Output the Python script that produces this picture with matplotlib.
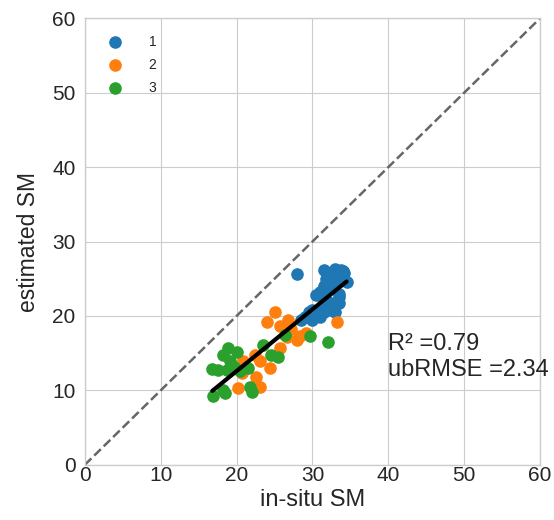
import numpy as np
import matplotlib
matplotlib.use("Agg")
import matplotlib.pyplot as plt

plt.style.use("seaborn-v0_8-whitegrid")
plt.rcParams['font.family'] = ['Liberation Sans', 'DejaVu Sans']

g1_x = [28.0, 31.5, 32.0, 33.8, 34.2, 31.8, 32.5, 33.0, 34.5, 31.5, 32.2, 33.5, 32.0, 31.0,
        30.5, 31.8, 32.8, 33.5, 30.0, 29.5, 30.5, 31.5, 32.5, 33.0, 29.0, 28.5, 31.0, 30.0,
        33.5, 32.0, 31.5, 33.2, 32.8, 31.2, 30.8, 32.4, 33.0, 34.0, 34.0, 33.0]
g1_y = [25.7, 26.2, 25.8, 26.2, 25.8, 25.0, 25.2, 24.8, 24.5, 24.0, 24.8, 23.0, 24.0, 23.2,
        22.8, 22.2, 21.5, 21.8, 20.8, 20.5, 20.0, 20.5, 20.8, 20.5, 19.8, 19.5, 19.8, 19.5,
        22.5, 24.5, 23.0, 25.5, 23.8, 20.8, 22.8, 21.8, 26.3, 25.0, 26.0, 25.5]

g2_x = [25.1, 24.0, 25.7, 26.8, 27.9, 29.2, 26.6, 25.7, 22.4, 23.1, 20.9, 24.4, 20.7,
        22.6, 23.1, 20.2, 33.2, 27.2, 28.3]
g2_y = [20.5, 19.2, 18.7, 19.5, 16.8, 17.7, 17.2, 15.7, 14.8, 13.9, 13.9, 13.0, 12.3,
        11.8, 10.5, 10.3, 19.2, 18.3, 17.3]

g3_x = [18.9, 20.0, 18.2, 19.1, 17.6, 18.7, 21.5, 23.5, 24.6, 25.5, 26.4, 21.8, 22.0,
        18.2, 18.5, 16.9, 29.7, 32.1, 16.8, 19.6, 20.4]
g3_y = [15.7, 15.2, 14.8, 13.9, 12.8, 12.8, 13.0, 16.1, 14.8, 14.5, 17.4, 10.5, 9.8,
        10.1, 9.7, 9.2, 17.3, 16.5, 12.9, 13.2, 12.6]

groups = [("1", g1_x, g1_y), ("2", g2_x, g2_y), ("3", g3_x, g3_y)]
colors = ["#1f77b4", "#ff7f0e", "#2ca02c"]
r2_text = "R² =0.79\nubRMSE =2.34"

fig = plt.figure(figsize=(5.54, 5.20), dpi=100)
ax = fig.add_axes([0.153, 0.106, 0.822, 0.859])

for (lab, xs, ys), c in zip(groups, colors):
    ax.scatter(xs, ys, s=65, color=c, label=lab, zorder=3)

all_x = np.concatenate([g1_x, g2_x, g3_x])
all_y = np.concatenate([g1_y, g2_y, g3_y])
m, b = np.polyfit(all_x, all_y, 1)
xx = np.array([all_x.min(), all_x.max()])
ax.plot(xx, m * xx + b, color="black", lw=3, zorder=4)

ax.plot([0, 60], [0, 60], ls="--", color="0.4", lw=1.8, zorder=2)

ax.set_xlim(0, 60)
ax.set_ylim(0, 60)
ax.set_xticks(range(0, 61, 10))
ax.set_yticks(range(0, 61, 10))
ax.tick_params(axis="both", labelsize=15, colors="0.15")
ax.tick_params(axis="x", pad=0.5)
ax.tick_params(axis="y", pad=6.5)
ax.set_xlabel("in-situ SM", fontsize=17, labelpad=3, color="0.15")
ax.set_ylabel("estimated SM", fontsize=16.5, labelpad=9, color="0.15")

ax.text(40, 12, r2_text, fontsize=17, color="0.15", clip_on=False)

ax.legend(loc="upper left", fontsize=10, handletextpad=1.4, borderaxespad=0.8, labelspacing=0.65)

fig.savefig("out.png", dpi=100)
